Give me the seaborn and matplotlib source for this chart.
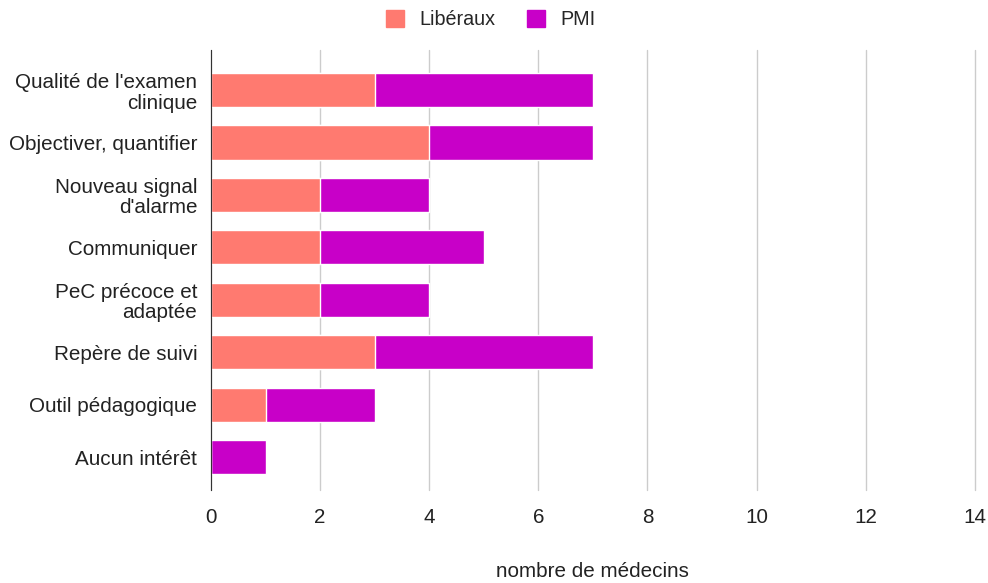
import pandas as pd
import matplotlib.pyplot as plt
import seaborn as sns
from matplotlib.patches import Patch

categories = ["Qualité de l'examen\nclinique", "Objectiver, quantifier", "Nouveau signal\nd'alarme",
              "Communiquer", "PeC précoce et\nadaptée", "Repère de suivi",
              "Outil pédagogique", "Aucun intérêt"]
liberaux = [3, 4, 2, 2, 2, 3, 1, 0]
pmi = [4, 3, 2, 3, 2, 4, 2, 1]

COL_LIB = "#ff7a70"
COL_PMI = "#c800c8"
FS = 14.9

df = pd.DataFrame({"cat": categories, "lib": liberaux, "pmi": pmi})
df["total"] = df["lib"] + df["pmi"]

sns.set_style("white")
plt.rcParams['font.family'] = ['Liberation Sans', 'DejaVu Sans']

fig = plt.figure(figsize=(9.88, 5.83), dpi=100)
ax = fig.add_axes([0.2136, 0.160, 0.773, 0.754])

sns.barplot(data=df, y="cat", x="total", color=COL_PMI, orient="h", width=0.65,
            ax=ax, saturation=1)
sns.barplot(data=df, y="cat", x="lib", color=COL_LIB, orient="h", width=0.65,
            ax=ax, saturation=1)

ax.set_xlim(0, 14)
ax.set_ylim(7.62, -0.76)
ax.set_xticks(range(0, 15, 2))
ax.xaxis.grid(True, color="#cccccc", linewidth=1)
for gl in ax.get_xgridlines():
    gl.set_clip_on(False)
ax.set_axisbelow(True)
for s in ["top", "right", "bottom"]:
    ax.spines[s].set_visible(False)
ax.spines["left"].set_color("#333333")
ax.tick_params(axis="both", length=0, labelsize=FS, colors="#222222")
ax.tick_params(axis="x", pad=13)
ax.tick_params(axis="y", pad=10)
for lbl in ax.get_yticklabels():
    lbl.set_multialignment("right")
    lbl.set_linespacing(1.1)
ax.set_ylabel("")
ax.set_xlabel("nombre de médecins", fontsize=FS, color="#222222")
ax.xaxis.set_label_coords(0.5, -0.165)

handles = [Patch(color=COL_LIB, label="Libéraux"), Patch(color=COL_PMI, label="PMI")]
fig.legend(handles=handles, loc="center", bbox_to_anchor=(0.497, 0.966), ncol=2,
           frameon=False, fontsize=14.2, handlelength=0.9, handleheight=0.9,
           columnspacing=1.6, handletextpad=0.8)

fig.savefig("out.png", dpi=100)
